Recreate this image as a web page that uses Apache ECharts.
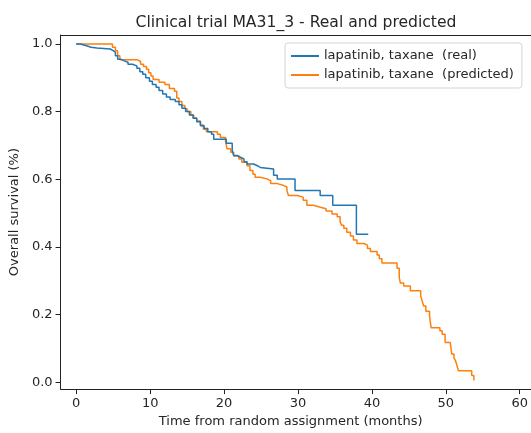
<!DOCTYPE html>
<html>
<head>
<meta charset="utf-8">
<script src="https://cdn.jsdelivr.net/npm/echarts@6/dist/echarts.min.js"></script>
<style>html,body{margin:0;padding:0;background:#fff;}#chart{width:531px;height:433px;}</style>
</head>
<body>
<div id="chart"></div>
<script>
const realT = [0, 0.6, 1.0, 1.5, 2.0, 2.8, 4.6, 5.0, 5.3, 5.6, 6.0, 6.5, 7.0, 7.6, 8.2, 8.6, 9.0, 9.4, 9.9, 10.3, 10.8, 11.2, 11.7, 12.2, 12.7, 13.4, 13.9, 14.3, 14.8, 15.3, 15.8, 16.3, 16.8, 17.3, 17.8, 18.3, 18.6, 20.3, 21.1, 21.3, 21.8, 22.2, 22.7, 23.1, 24.0, 24.5, 24.9, 26.7, 27.2, 29.6, 33.0, 34.7, 37.9, 39.5];
const realS = [1.0, 0.997, 0.994, 0.99, 0.988, 0.985, 0.98, 0.975, 0.965, 0.955, 0.95, 0.946, 0.94, 0.935, 0.928, 0.918, 0.91, 0.9, 0.89, 0.88, 0.872, 0.862, 0.852, 0.843, 0.836, 0.83, 0.82, 0.81, 0.8, 0.79, 0.78, 0.77, 0.758, 0.75, 0.74, 0.733, 0.718, 0.706, 0.685, 0.67, 0.665, 0.66, 0.652, 0.645, 0.64, 0.635, 0.63, 0.612, 0.601, 0.567, 0.552, 0.523, 0.437, 0.437];

const predT = [0, 4.9, 5.3, 5.6, 5.9, 8.3, 8.7, 9.1, 9.5, 9.8, 10.1, 10.4, 11.2, 12.0, 12.6, 13.3, 13.6, 13.9, 14.3, 14.7, 15.0, 15.5, 15.9, 16.3, 16.8, 17.2, 17.6, 19.1, 19.5, 20.2, 20.4, 20.9, 21.3, 22.0, 22.4, 23.1, 23.5, 23.9, 24.2, 24.9, 25.8, 26.3, 27.2, 28.0, 28.5, 28.7, 29.9, 30.7, 31.2, 32.1, 32.9, 33.8, 34.6, 35.3, 35.7, 35.9, 36.2, 36.6, 37.1, 37.5, 37.97, 38.9, 39.4, 39.8, 40.7, 41.0, 41.35, 43.4, 43.7, 43.85, 44.3, 45.2, 46.6, 46.8, 47.0, 47.3, 47.8, 48.0, 49.2, 49.5, 49.9, 50.6, 50.8, 51.1, 51.3, 51.5, 51.7, 53.5, 53.8];
const predS = [1.0, 0.99, 0.98, 0.965, 0.953, 0.948, 0.94, 0.933, 0.925, 0.915, 0.905, 0.895, 0.887, 0.88, 0.868, 0.86, 0.84, 0.83, 0.818, 0.808, 0.8, 0.79, 0.781, 0.772, 0.76, 0.748, 0.74, 0.733, 0.723, 0.712, 0.69, 0.68, 0.669, 0.66, 0.65, 0.64, 0.626, 0.615, 0.606, 0.601, 0.596, 0.587, 0.582, 0.577, 0.567, 0.552, 0.547, 0.538, 0.523, 0.518, 0.513, 0.506, 0.497, 0.489, 0.474, 0.464, 0.455, 0.443, 0.432, 0.42, 0.41, 0.405, 0.395, 0.386, 0.376, 0.365, 0.352, 0.337, 0.31, 0.293, 0.284, 0.27, 0.255, 0.24, 0.225, 0.21, 0.196, 0.161, 0.152, 0.142, 0.117, 0.112, 0.083, 0.072, 0.064, 0.05, 0.034, 0.02, 0.005];

const xTicks = [0, 10, 20, 30, 40, 50, 60];
const yTicks = [0, 0.2, 0.4, 0.6, 0.8, 1.0];
const seriesNames = ['lapatinib, taxane  (real)', 'lapatinib, taxane  (predicted)'];

const FONT = 'DejaVu Sans';
const AX = '#222';
const TXT = '#262626';
const X_MIN = -2.12, X_MAX = 61.49;

const chart = echarts.init(document.getElementById('chart'), null, {renderer: 'canvas'});
chart.setOption({
  animation: false,
  backgroundColor: '#fff',
  graphic: [{
    type: 'text', x: 296, y: 23,
    style: {text: 'Clinical trial MA31_3 - Real and predicted', font: '15.6px "DejaVu Sans"', fill: TXT, textAlign: 'center', textVerticalAlign: 'middle'}
  }],
  legend: {
    orient: 'vertical', left: 285, top: 43, width: 237,
    padding: [6, 8, 6, 6], itemGap: 5, itemWidth: 28, itemHeight: 2,
    backgroundColor: '#fff', borderColor: '#d5d5d5', borderWidth: 1, borderRadius: 3,
    selectedMode: false, icon: 'rect',
    textStyle: {fontFamily: FONT, fontSize: 13, color: TXT, lineHeight: 14},
    data: seriesNames
  },
  grid: {left: 60, top: 35, right: 0, bottom: 41, show: false, containLabel: false},
  xAxis: [{
    type: 'value', min: X_MIN, max: X_MAX,
    axisLine: {show: true, onZero: false, lineStyle: {color: AX, width: 1}},
    axisTick: {show: true, length: 5, customValues: xTicks, lineStyle: {color: AX}},
    axisLabel: {customValues: xTicks, margin: 8, fontFamily: FONT, fontSize: 13, color: TXT},
    splitLine: {show: false},
    name: 'Time from random assignment (months)', nameLocation: 'middle', nameGap: 25,
    nameTextStyle: {fontFamily: FONT, fontSize: 13, color: TXT, padding: [0, 10, 0, 0]}
  }, {
    type: 'value', position: 'top', min: X_MIN, max: X_MAX,
    axisLine: {show: true, onZero: false, lineStyle: {color: AX, width: 1}},
    axisTick: {show: false}, axisLabel: {show: false}, splitLine: {show: false}
  }],
  yAxis: {
    type: 'value', min: -0.0205, max: 1.0264,
    axisLine: {show: true, onZero: false, lineStyle: {color: AX, width: 1}},
    axisTick: {show: true, length: 5, customValues: yTicks, lineStyle: {color: AX}},
    axisLabel: {customValues: yTicks, margin: 8, fontFamily: FONT, fontSize: 13, color: TXT, formatter: v => v.toFixed(1)},
    splitLine: {show: false},
    name: 'Overall survival (%)', nameLocation: 'middle', nameGap: 38, nameRotate: 90,
    nameTextStyle: {fontFamily: FONT, fontSize: 13, color: TXT}
  },
  series: [
    {name: seriesNames[0], type: 'line', step: 'end', symbol: 'none', color: '#1f77b4',
     lineStyle: {width: 1.5, color: '#1f77b4'}, data: realT.map((t, i) => [t, realS[i]]), z: 3},
    {name: seriesNames[1], type: 'line', step: 'end', symbol: 'none', color: '#ff7f0e',
     lineStyle: {width: 1.5, color: '#ff7f0e'}, data: predT.map((t, i) => [t, predS[i]]), z: 2}
  ]
});
</script>
</body>
</html>
